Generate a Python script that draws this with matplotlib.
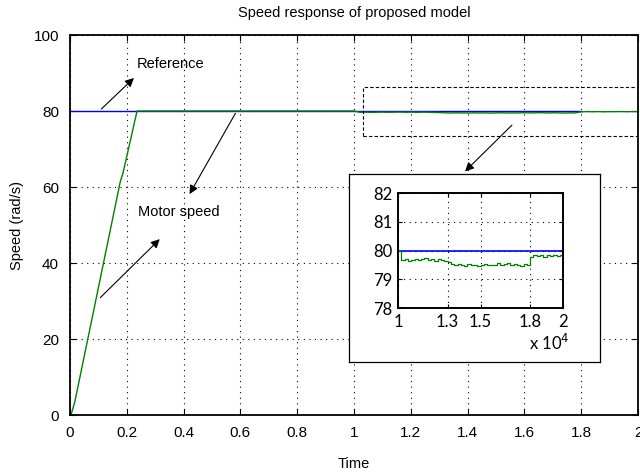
import matplotlib.pyplot as plt
from matplotlib.patches import Rectangle

plt.rcParams['font.family'] = ['Liberation Sans', 'DejaVu Sans']

# main response (time in s, speed in rad/s)
ref_t = [0.0, 1.8]
ref_w = [80, 80]

ramp_t = [0.0, 0.005, 0.017, 0.177, 0.187, 0.236, 1.0]
ramp_w = [0.0, 0.4, 3.5, 61.4, 63.8, 80.0, 80.0]

# zoomed window (x 10^4 samples, mapped onto t = 1..2)
zoom_t = [1.00, 1.02, 1.04, 1.06, 1.08, 1.10, 1.12, 1.14, 1.16, 1.18,
          1.20, 1.22, 1.24, 1.26, 1.28, 1.30, 1.32, 1.34, 1.36, 1.38,
          1.40, 1.42, 1.44, 1.46, 1.48, 1.50, 1.52, 1.54, 1.56, 1.58,
          1.60, 1.62, 1.64, 1.66, 1.68, 1.70, 1.72, 1.74, 1.76, 1.78,
          1.80, 1.82, 1.84, 1.86, 1.88, 1.90, 1.92, 1.94, 1.96, 1.98, 2.00]
zoom_w = [80.00, 79.66, 79.70, 79.64, 79.68, 79.72, 79.66, 79.70, 79.73, 79.67,
          79.71, 79.65, 79.70, 79.68, 79.64, 79.60, 79.52, 79.48, 79.53, 79.50,
          79.47, 79.52, 79.49, 79.51, 79.46, 79.50, 79.53, 79.48, 79.51, 79.49,
          79.55, 79.50, 79.53, 79.56, 79.49, 79.54, 79.51, 79.47, 79.52, 79.50,
          79.78, 79.84, 79.80, 79.85, 79.79, 79.83, 79.81, 79.86, 79.80, 79.84, 79.82]
zoom_ref = [80, 80]
zoom_ticks = [1, 1.3, 1.5, 1.8, 2]
zoom_ticklabels = ['1', '1.3', '1.5', '1.8', '2']

BLUE = '#0000ff'
GREEN = '#008000'

fig = plt.figure(figsize=(6.4, 4.73), dpi=100)
ax = fig.add_axes([0.1094, 0.1226, 0.8875, 0.8034])

ax.plot(ref_t, ref_w, color=BLUE, lw=1.0)
ax.plot(ramp_t + zoom_t, ramp_w + zoom_w, color=GREEN, lw=1.0)

ax.set_xlim(0, 2)
ax.set_ylim(0, 100)
ax.set_xticks([0, 0.2, 0.4, 0.6, 0.8, 1, 1.2, 1.4, 1.6, 1.8, 2])
ax.set_xticklabels(['0', '0.2', '0.4', '0.6', '0.8', '1', '1.2', '1.4', '1.6', '1.8', '2'])
ax.set_yticks([0, 20, 40, 60, 80, 100])
ax.tick_params(direction='in', top=True, right=True, length=4, width=0.8,
               labelsize=11, pad=8)
ax.grid(True, linestyle=(0, (1, 4)), color='black', lw=0.8)
for s in ax.spines.values():
    s.set_linewidth(1.3)

ax.set_title('Speed response of proposed model', fontsize=10.5, pad=13)
ax.set_xlabel('Time', fontsize=10.5, labelpad=12)
ax.set_ylabel('Speed (rad/s)', fontsize=10.5, labelpad=7)

# dashed zoom window
ax.add_patch(Rectangle((1.03, 73.4), 0.97, 12.9, fill=False, ls=(0, (3, 2)),
                       lw=0.8, ec='black', zorder=5))

arrow = dict(arrowstyle='-|>', color='black', lw=0.8, mutation_scale=13)
ax.annotate('', xy=(1.384, 63.6), xytext=(1.563, 76.8), arrowprops=arrow)
ax.annotate('', xy=(0.232, 89.2), xytext=(0.103, 80), arrowprops=arrow)
ax.text(0.235, 92.3, 'Reference', fontsize=10.5, va='center', ha='left')
ax.annotate('', xy=(0.416, 57.5), xytext=(0.587, 80), arrowprops=arrow)
ax.annotate('', xy=(0.323, 46.8), xytext=(0.1, 30.4), arrowprops=arrow)
ax.text(0.24, 53.5, 'Motor speed', fontsize=10.5, va='center', ha='left')

# inset frame
frame = fig.add_axes([0.545, 0.2347, 0.392, 0.3975])
frame.set_xticks([])
frame.set_yticks([])
frame.set_facecolor('white')
for s in frame.spines.values():
    s.set_linewidth(0.9)

inset = fig.add_axes([0.622, 0.3488, 0.258, 0.243])
inset.plot([1.0, 2.0], zoom_ref, color=BLUE, lw=1.2)
inset.plot(zoom_t, zoom_w, color=GREEN, lw=0.9, drawstyle='steps-post')
inset.set_xlim(1, 2)
inset.set_ylim(78, 82)
inset.set_xticks(zoom_ticks)
inset.set_xticklabels(zoom_ticklabels)
inset.set_yticks([78, 79, 80, 81, 82])
inset.tick_params(direction='in', top=True, right=True, length=3, width=0.8,
                  labelsize=12, pad=4)
for lab in inset.get_xticklabels() + inset.get_yticklabels():
    lab.set_family(['Lato', 'DejaVu Sans'])
inset.grid(True, linestyle=(0, (1, 4)), color='black', lw=0.8)
for s in inset.spines.values():
    s.set_linewidth(1.4)
fig.text(0.858, 0.275, 'x 10$^4$', fontsize=12, ha='center', va='center',
         family=['Lato', 'DejaVu Sans'])

fig.savefig('out.png', dpi=100)
